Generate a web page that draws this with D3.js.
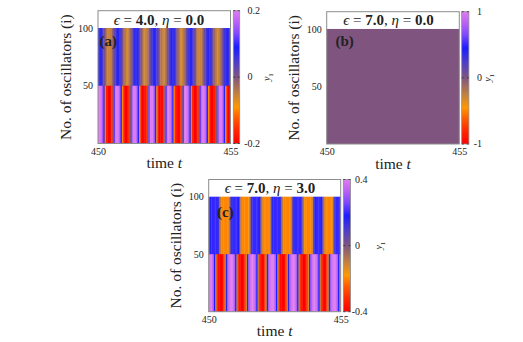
<!DOCTYPE html>
<html>
<head>
<meta charset="utf-8">
<script src="https://cdn.jsdelivr.net/npm/d3@7"></script>
<style>
body { margin: 0; background: #fff; }
svg text { font-family: "Liberation Serif", "DejaVu Serif", serif; fill: #222; }
</style>
</head>
<body>
<script>
// axis ticks
var timeTicks = [450, 455];
var oscTicks = [50, 100];

// y_1 sampled every 0.05 time units, oscillators 51-100 (top) and 1-50 (bottom)
var aTop = [
    0.07, 0.08, 0.07, 0.05, 0.02, -0.01, -0.04, -0.05, -0.06, -0.05,
    -0.03, 0.00, 0.03, 0.06, 0.08, 0.08, 0.07, 0.04, 0.01, -0.02,
    -0.04, -0.06, -0.06, -0.04, -0.02, 0.01, 0.04, 0.07, 0.08, 0.08,
    0.06, 0.03, 0.00, -0.03, -0.05, -0.06, -0.05, -0.04, -0.01, 0.02,
    0.05, 0.07, 0.08, 0.07, 0.05, 0.02, -0.01, -0.04, -0.05, -0.06,
    -0.05, -0.03, 0.00, 0.03, 0.06, 0.08, 0.08, 0.07, 0.04, 0.01,
    -0.02, -0.04, -0.06, -0.06, -0.04, -0.02, 0.01, 0.04, 0.07, 0.08,
    0.08, 0.06, 0.03, 0.00, -0.03, -0.05, -0.06, -0.05, -0.04, -0.01,
    0.02, 0.05, 0.07, 0.08, 0.07, 0.05, 0.02, -0.01, -0.04, -0.05,
    -0.06, -0.05, -0.03, 0.00, 0.03, 0.06, 0.08, 0.08, 0.07, 0.04
];
var aBottom = [
    0.2, 0.2, 0.19, 0.15, 0.08, -0.1, -0.17, -0.2, -0.2, -0.19, -0.15, 0.0, 0.12,
    0.2, 0.2, 0.19, 0.15, 0.08, -0.1, -0.17, -0.2, -0.2, -0.19, -0.15, 0.0, 0.12,
    0.2, 0.2, 0.19, 0.15, 0.08, -0.1, -0.17, -0.2, -0.2, -0.19, -0.15, 0.0, 0.12,
    0.2, 0.2, 0.19, 0.15, 0.08, -0.1, -0.17, -0.2, -0.2, -0.19, -0.15, 0.0, 0.12,
    0.2, 0.2, 0.19, 0.15, 0.08, -0.1, -0.17, -0.2, -0.2, -0.19, -0.15, 0.0, 0.12,
    0.2, 0.2, 0.19, 0.15, 0.08, -0.1, -0.17, -0.2, -0.2, -0.19, -0.15, 0.0, 0.12,
    0.2, 0.2, 0.19, 0.15, 0.08, -0.1, -0.17, -0.2, -0.2, -0.19, -0.15, 0.0, 0.12,
    0.2, 0.2, 0.19, 0.15, 0.08, -0.1, -0.17, -0.2, -0.2
];
// (b) is fully synchronised at the origin
var bTop = [0];
var bBottom = [0];
var cTop = [
    0.04, 0.17, 0.2, 0.2, 0.2, 0.2, 0.2, 0.12, -0.04, -0.17,
    -0.2, -0.2, -0.2, -0.2, -0.2, -0.12, 0.04, 0.17, 0.2, 0.2,
    0.2, 0.2, 0.17, 0.04, -0.12, -0.2, -0.2, -0.2, -0.2, -0.2,
    -0.17, -0.04, 0.12, 0.2, 0.2, 0.2, 0.2, 0.2, 0.17, 0.04,
    -0.12, -0.2, -0.2, -0.2, -0.2, -0.2, -0.12, 0.04, 0.17, 0.2,
    0.2, 0.2, 0.2, 0.2, 0.12, -0.04, -0.17, -0.2, -0.2, -0.2,
    -0.2, -0.2, -0.12, 0.04, 0.17, 0.2, 0.2, 0.2, 0.2, 0.2,
    0.12, -0.04, -0.17, -0.2, -0.2, -0.2, -0.2, -0.2, -0.12, 0.04,
    0.17, 0.2, 0.2, 0.2, 0.2, 0.17, 0.04, -0.12, -0.2, -0.2,
    -0.2, -0.2, -0.2, -0.17, -0.04, 0.12, 0.2, 0.2, 0.2, 0.2
];
var cBottom = [
    0.4, 0.4, 0.38, 0.32, 0.18, -0.1, -0.3, -0.38, -0.4, -0.4, -0.38, -0.3, -0.12, 0.15, 0.3, 0.38,
    0.4, 0.4, 0.38, 0.32, 0.18, -0.1, -0.3, -0.38, -0.4, -0.4, -0.38, -0.3, -0.12, 0.15, 0.3, 0.38,
    0.4, 0.4, 0.38, 0.32, 0.18, -0.1, -0.3, -0.38, -0.4, -0.38, -0.3, -0.12, 0.15, 0.3, 0.38,
    0.4, 0.4, 0.38, 0.32, 0.18, -0.1, -0.3, -0.38, -0.4, -0.4, -0.38, -0.3, -0.12, 0.15, 0.3, 0.38,
    0.4, 0.4, 0.38, 0.32, 0.18, -0.1, -0.3, -0.38, -0.4, -0.4, -0.38, -0.3, -0.12, 0.15, 0.3, 0.38,
    0.4, 0.4, 0.38, 0.32, 0.18, -0.1, -0.3, -0.38, -0.4, -0.38, -0.3, -0.12, 0.15, 0.3, 0.38,
    0.4, 0.4, 0.38, 0.32, 0.18, -0.1
];

// colour bar ticks
var aBarTicks = [-0.2, 0, 0.2];
var bBarTicks = [-1, 0, 1];
var cBarTicks = [-0.4, 0, 0.4];

var panels = [
    {name: "(a)", eps: "4.0", eta: "0.0", top: aTop, bottom: aBottom, vmax: 0.2, barTicks: aBarTicks,
        x0: 98, x1: 230.5, y0: 10.7, y1: 143.5, cbX: 233.3, cbW: 6.4, cbLabelX: 247.5, cbTitleX: 270,
        yLabelX: 71, nameX: 99.5, nameY: 46, titleX: 159, titleY: 24.5},
    {name: "(b)", eps: "7.0", eta: "0.0", top: bTop, bottom: bBottom, vmax: 1, barTicks: bBarTicks,
        x0: 326.7, x1: 459.3, y0: 11.7, y1: 144, cbX: 461.7, cbW: 7.2, cbLabelX: 477, cbTitleX: 491,
        yLabelX: 299, nameX: 335.5, nameY: 46, titleX: 388.5, titleY: 24.5},
    {name: "(c)", eps: "7.0", eta: "3.0", top: cTop, bottom: cBottom, vmax: 0.4, barTicks: cBarTicks,
        x0: 208.7, x1: 340.7, y0: 179.5, y1: 311.7, cbX: 343.3, cbW: 7.2, cbLabelX: 355, cbTitleX: 382,
        yLabelX: 181, nameX: 217, nameY: 217, titleX: 270, titleY: 192.5}
];

var palette = d3.scaleLinear()
    .domain([-1, -0.8, -0.6, -0.45, -0.25, 0, 0.25, 0.45, 0.65, 0.85, 1])
    .range(["#ff0000", "#ff2800", "#ff6000", "#ff9800", "#c28040", "#7f5580",
        "#4a3ad0", "#1c1cff", "#8048ff", "#c064f4", "#dc7cf0"])
    .clamp(true);

var svg = d3.select("body").append("svg")
    .attr("width", 523)
    .attr("height", 342);
var defs = svg.append("defs");

panels.forEach(drawPanel);

function drawPanel(p, k) {
    var g = svg.append("g");
    var x = d3.scaleLinear().domain([450, 455]).range([p.x0, p.x1]);
    var y = d3.scaleLinear().domain([0, 115]).range([p.y1, p.y0]);
    var color = function (v) { return palette(v / p.vmax); };

    // heat map columns (top group drawn first, a little taller so no seam shows at 50)
    [[p.top, 50, 100, 0.8], [p.bottom, 0, 50, 0]].forEach(function (grp) {
        var dt = 5 / grp[0].length;
        g.selectAll(null)
            .data(grp[0])
            .enter()
            .append("rect")
            .attr("x", function (d, i) { return x(450 + i * dt); })
            .attr("width", function (d, i) {
                var w = x(450 + (i + 1) * dt) - x(450 + i * dt);
                return i < grp[0].length - 1 ? w + 0.4 : w;
            })
            .attr("y", y(grp[2]))
            .attr("height", y(grp[1]) - y(grp[2]) + grp[3])
            .attr("fill", color);
    });

    g.append("rect")
        .attr("x", p.x0).attr("y", p.y0)
        .attr("width", p.x1 - p.x0).attr("height", p.y1 - p.y0)
        .attr("fill", "none").attr("stroke", "#8c8c8c").attr("stroke-width", 1);

    // axes
    var yAxis = d3.axisLeft(y).tickValues(oscTicks).tickFormat(d3.format("d")).tickSize(0).tickPadding(5);
    var xAxis = d3.axisBottom(x).tickValues(timeTicks).tickFormat(d3.format("d")).tickSize(0).tickPadding(4);
    g.append("g").attr("transform", "translate(" + p.x0 + ",0)").call(yAxis)
        .call(function (s) { s.select(".domain").remove(); });
    g.append("g").attr("transform", "translate(0," + p.y1 + ")").call(xAxis)
        .call(function (s) { s.select(".domain").remove(); });
    g.selectAll(".tick text")
        .attr("font-family", "Liberation Serif, DejaVu Serif, serif")
        .attr("font-size", 10)
        .attr("fill", "#222");

    g.append("text")
        .attr("transform", "translate(" + p.yLabelX + "," + ((p.y0 + p.y1) / 2) + ") rotate(-90)")
        .attr("text-anchor", "middle")
        .style("font-size", "15.5px")
        .text("No. of oscillators (i)");

    var xl = g.append("text")
        .attr("x", (p.x0 + p.x1) / 2)
        .attr("y", p.y1 + 24.5)
        .attr("text-anchor", "middle")
        .style("font-size", "15.5px");
    xl.append("tspan").text("time ");
    xl.append("tspan").style("font-style", "italic").text("t");

    // title in the white header
    var tt = g.append("text")
        .attr("x", p.titleX)
        .attr("y", p.titleY)
        .attr("text-anchor", "middle")
        .style("font-size", "15px");
    tt.append("tspan").style("font-style", "italic").text("\u03f5");
    tt.append("tspan").text(" = ");
    tt.append("tspan").style("font-weight", "bold").text(p.eps);
    tt.append("tspan").text(",  ");
    tt.append("tspan").style("font-style", "italic").text("\u03b7");
    tt.append("tspan").text(" = ");
    tt.append("tspan").style("font-weight", "bold").text(p.eta);

    g.append("text")
        .attr("x", p.nameX)
        .attr("y", p.nameY)
        .style("font-size", "15px")
        .style("font-weight", "bold")
        .text(p.name);

    // colour bar
    var cb = d3.scaleLinear().domain([-p.vmax, p.vmax]).range([p.y1, p.y0]);
    var grad = defs.append("linearGradient")
        .attr("id", "cbar" + k)
        .attr("x1", 0).attr("y1", 1).attr("x2", 0).attr("y2", 0);
    grad.selectAll("stop")
        .data(palette.domain())
        .enter()
        .append("stop")
        .attr("offset", function (d) { return (d + 1) / 2; })
        .attr("stop-color", function (d) { return palette(d); });
    g.append("rect")
        .attr("x", p.cbX).attr("y", p.y0)
        .attr("width", p.cbW).attr("height", p.y1 - p.y0)
        .attr("fill", "url(#cbar" + k + ")")
        .attr("stroke", "#8c8c8c").attr("stroke-width", 0.8);
    p.barTicks.forEach(function (t) {
        var ty = cb(t);
        g.append("line").attr("x1", p.cbX).attr("x2", p.cbX + 2)
            .attr("y1", ty).attr("y2", ty).attr("stroke", "#333").attr("stroke-width", 0.8);
        g.append("line").attr("x1", p.cbX + p.cbW - 2).attr("x2", p.cbX + p.cbW)
            .attr("y1", ty).attr("y2", ty).attr("stroke", "#333").attr("stroke-width", 0.8);
        g.append("text")
            .attr("x", p.cbLabelX + (t < 0 ? -3.3 : 0))
            .attr("y", ty)
            .attr("dy", "0.32em")
            .style("font-size", "10px")
            .text(String(t));
    });
    var yt = g.append("text")
        .attr("transform", "translate(" + p.cbTitleX + "," + ((p.y0 + p.y1) / 2) + ") rotate(-90)")
        .attr("text-anchor", "middle")
        .style("font-size", "10px");
    yt.append("tspan").style("font-style", "italic").text("y");
    yt.append("tspan").attr("dy", 2.5).style("font-size", "7px").text("1");
}
</script>
</body>
</html>
